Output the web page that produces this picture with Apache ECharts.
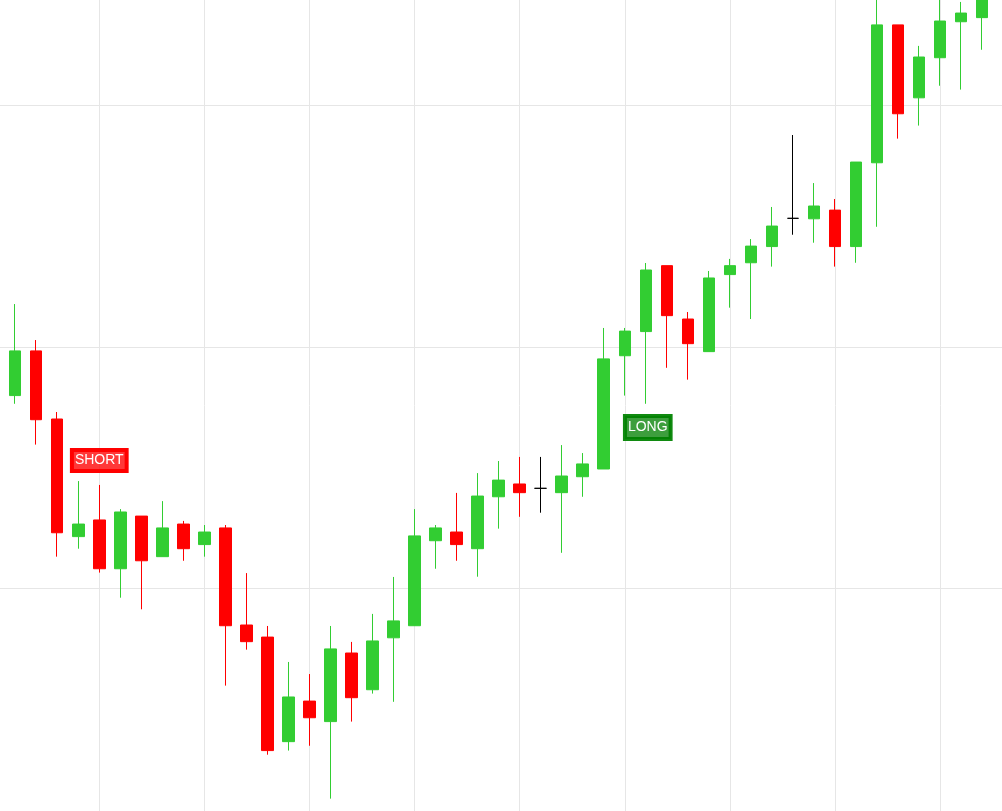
<!DOCTYPE html>
<html>
<head>
<meta charset="utf-8">
<script src="https://cdn.jsdelivr.net/npm/echarts@6/dist/echarts.min.js"></script>
<style>
  html, body { margin: 0; padding: 0; background: #ffffff; }
  #chart { width: 1002px; height: 811px; }
</style>
</head>
<body>
<div id="chart"></div>
<script>
// ---- data ----
const categories = Array.from({length: 47}, (_, i) => 'D' + (i + 1));
const openPrices = [
  107.98, 109.83, 107.01, 102.14, 102.83, 100.81, 102.99, 101.31, 102.66, 101.81,
  102.50, 98.48, 97.98, 93.65, 95.33, 94.48, 97.32, 95.80, 97.95, 98.45,
  101.97, 102.33, 101.64, 103.79, 104.32, 104.14, 103.96, 104.62, 104.94, 109.63,
  110.63, 113.36, 111.15, 109.80, 112.99, 113.48, 114.15, 115.32, 115.30, 115.66,
  114.15, 117.62, 123.33, 120.31, 121.97, 123.46, 123.63
];
const closePrices = [
  109.83, 106.98, 102.30, 102.66, 100.81, 103.16, 101.14, 102.50, 101.64, 102.33,
  98.45, 97.79, 93.28, 95.50, 94.64, 97.49, 95.47, 97.82, 98.65, 102.17,
  102.50, 101.81, 103.82, 104.48, 103.96, 104.14, 104.65, 105.15, 109.50, 110.65,
  113.18, 111.29, 110.13, 112.85, 113.36, 114.17, 115.00, 115.32, 115.83, 114.15,
  117.65, 123.33, 119.65, 122.00, 123.49, 123.82, 124.57
];
const lowPrices = [
  107.64, 105.95, 101.31, 101.64, 100.65, 99.61, 99.13, 101.31, 101.14, 101.31,
  95.97, 97.46, 93.11, 93.28, 93.48, 91.29, 94.48, 95.64, 95.30, 98.45,
  100.81, 101.14, 100.48, 102.47, 102.96, 103.13, 101.47, 103.79, 104.94, 107.98,
  107.64, 109.13, 108.64, 109.80, 111.62, 111.15, 113.32, 114.64, 114.31, 113.32,
  113.48, 114.97, 118.62, 119.16, 120.81, 120.65, 122.30
];
const highPrices = [
  111.77, 110.28, 107.30, 104.44, 104.28, 103.28, 102.99, 103.61, 102.79, 102.62,
  102.62, 100.63, 98.44, 96.95, 96.45, 98.44, 97.78, 98.94, 100.47, 103.28,
  102.62, 103.95, 104.77, 105.27, 105.44, 105.44, 105.93, 105.60, 110.78, 110.78,
  113.47, 113.36, 111.44, 113.14, 113.64, 114.46, 115.79, 118.77, 116.78, 116.12,
  117.65, 125.19, 123.33, 122.46, 124.77, 124.28, 124.98
];
const signalNames = ['SHORT', 'LONG'];
const signalIndex = [4, 30];
const signalPrice = [105.29, 106.66];
const yTicks = [90, 100, 110, 120, 130];

// ---- build ----
// one empty slot on each side so the grid spans the whole canvas
const axisCats = ['', ...categories, ''];
const ohlc = ['-', ...categories.map((_, i) => [openPrices[i], closePrices[i], lowPrices[i], highPrices[i]]), '-'];

const signalStyles = {
  SHORT: { backgroundColor: 'rgba(255,0,0,0.78)', borderColor: '#ff0000', offset: [0, 0], padding: [3, 3, 2, 3] },
  LONG: { backgroundColor: 'rgba(0,128,0,0.76)', borderColor: '#108a10', offset: [2, 0], padding: [4, 3, 3, 3] }
};

const markData = signalNames.map((name, k) => ({
  name: name,
  coord: [signalIndex[k] + 1, signalPrice[k]],
  symbol: 'rect',
  symbolSize: 0,
  label: {
    show: true,
    position: 'inside',
    formatter: name,
    color: '#ffffff',
    fontFamily: 'Liberation Sans, Arial, sans-serif',
    fontSize: 14,
    lineHeight: 16,
    offset: signalStyles[name].offset,
    padding: signalStyles[name].padding,
    borderWidth: 2,
    backgroundColor: signalStyles[name].backgroundColor,
    borderColor: signalStyles[name].borderColor
  }
}));

const chart = echarts.init(document.getElementById('chart'), null, { renderer: 'canvas' });
chart.setOption({
  animation: false,
  backgroundColor: '#ffffff',
  grid: {
    left: -5.82, right: -1.1, top: -136.2, bottom: -18.8,
    containLabel: false,
    outerBoundsMode: 'none'
  },
  xAxis: {
    type: 'category',
    data: axisCats,
    boundaryGap: false,
    axisLine: { show: false },
    axisTick: { show: false },
    axisLabel: { show: false },
    splitLine: {
      show: true,
      interval: (index) => index % 5 === 0 && index > 0,
      lineStyle: { color: '#e6e6e6', width: 1 }
    }
  },
  yAxis: {
    type: 'value',
    min: yTicks[0],
    max: yTicks[yTicks.length - 1],
    interval: yTicks[1] - yTicks[0],
    axisLine: { show: false },
    axisTick: { show: false },
    axisLabel: { show: false },
    splitLine: { show: true, lineStyle: { color: '#e6e6e6', width: 1 } }
  },
  series: [{
    type: 'candlestick',
    data: ohlc,
    barWidth: 12,
    clip: false,
    itemStyle: {
      color: '#32cd32',
      color0: '#ff0000',
      borderColor: '#32cd32',
      borderColor0: '#ff0000',
      borderColorDoji: '#000000',
      borderWidth: 1
    },
    markPoint: {
      symbolSize: 0,
      data: markData
    }
  }]
});
</script>
</body>
</html>
